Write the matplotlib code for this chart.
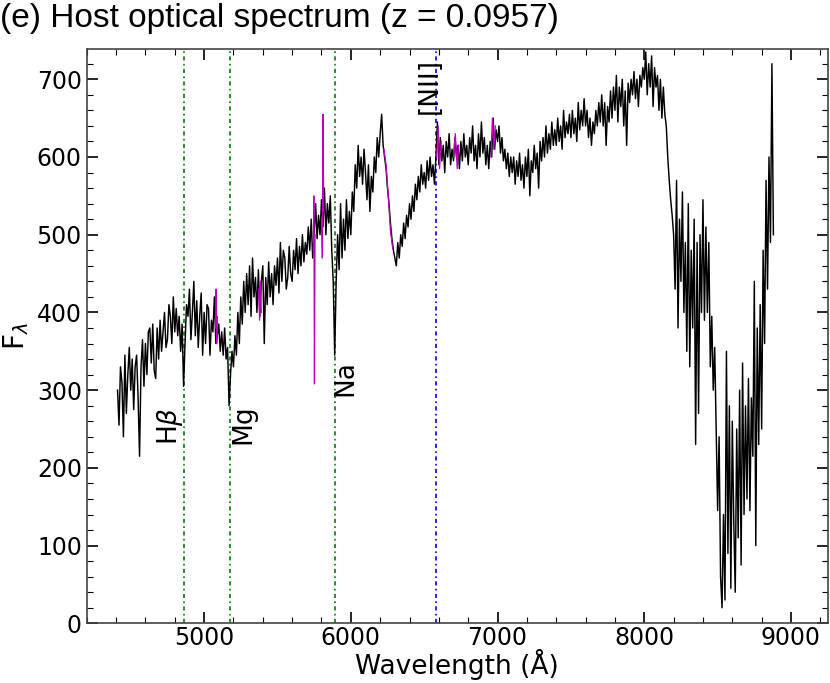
import numpy as np
import matplotlib
matplotlib.use("Agg")
import matplotlib.pyplot as plt
from matplotlib.ticker import MultipleLocator

# rest-frame wavelength grid of the host spectrum (Angstrom)
wave = np.arange(4410, 8890, 10)

# flux values, one row per 100 A
flux = [
    300, 255, 330, 310, 240, 345, 270, 320, 355,
    300, 340, 275, 330, 345, 290, 215, 330, 365, 305,
    360, 320, 375, 380, 335, 385, 325, 315, 380, 340,
    390, 350, 375, 400, 355, 365, 410, 395, 360, 420,
    375, 405, 370, 395, 350, 385, 305, 360, 410, 395,
    430, 365, 400, 440, 370, 415, 355, 395, 425, 345,
    400, 360, 410, 405, 345, 390, 375, 420, 360, 370,
    385, 350, 375, 345, 380, 340, 355, 280, 320, 350,
    330, 370, 345, 400, 360, 420, 385, 440, 400, 450,
    410, 460, 395, 470, 420, 445, 400, 455, 395, 440,
    460, 360, 445, 410, 465, 420, 450, 410, 460, 435,
    470, 425, 490, 440, 480, 470, 430, 445, 485, 450,
    440, 480, 455, 495, 450, 485, 460, 500, 465, 490,
    475, 510, 480, 520, 470, 500, 540, 495, 525, 500,
    545, 510, 560, 500, 540, 515, 550, 480, 440, 345,
    440, 500, 455, 540, 470, 520, 480, 545, 495, 530,
    500, 555, 530, 590, 560, 615, 575, 600, 565, 610,
    580, 545, 590, 530, 575, 555, 600, 580, 625, 600,
    630, 655, 615, 600, 585, 560, 540, 515, 495, 480,
    470, 460, 490, 470, 500, 485, 515, 495, 525, 510,
    540, 520, 550, 530, 565, 545, 575, 555, 590, 565,
    580, 560, 595, 570, 600, 575, 590, 565, 600, 645,
    590, 625, 595, 615, 580, 620, 600, 630, 590, 610,
    595, 625, 600, 615, 585, 620, 595, 630, 600, 615,
    590, 625, 605, 640, 595, 615, 585, 630, 600, 645,
    605, 625, 590, 615, 585, 620, 600, 650, 610, 635,
    620, 640, 605, 625, 595, 610, 585, 605, 575, 600,
    580, 600, 565, 595, 575, 605, 570, 590, 560, 600,
    575, 610, 550, 595, 580, 615, 585, 605, 560, 620,
    595, 625, 600, 640, 605, 630, 610, 645, 615, 635,
    615, 650, 620, 640, 610, 660, 625, 645, 630, 655,
    625, 660, 630, 650, 620, 670, 635, 660, 640, 675,
    640, 660, 625, 650, 615, 645, 630, 660, 640, 670,
    645, 680, 640, 670, 615, 665, 645, 685, 650, 690,
    660, 705, 645, 690, 665, 700, 640, 685, 615, 695,
    670, 700, 680, 710, 675, 700, 665, 705, 690, 715,
    700, 735, 680, 720, 690, 730, 665, 715, 690, 705,
    660, 700, 650, 690, 655, 640, 600, 570, 545, 525,
    500, 430, 570, 380, 520, 440, 555, 400, 490, 350,
    540, 330, 480, 380, 520, 230, 490, 270, 500, 400,
    545, 390, 510, 400, 490, 330, 395, 300, 355, 250,
    145, 240, 60, 20, 140, 30, 350, 90, 280, 45,
    260, 130, 40, 250, 110, 300, 75, 335, 140, 280,
    160, 315, 145, 290, 215, 440, 100, 380, 230, 410,
    250, 480, 360, 570, 430, 600, 490, 720, 500,
]

# masked pixels (shown in magenta)
mask_waves = [
    [5078, 5082, 5086, 5090],
    [5372, 5378, 5384, 5390],
    [5744, 5748, 5752, 5756],
    [5800, 5806, 5810, 5815],
    [6225, 6240, 6255, 6270, 6285],
    [6585, 6595, 6605, 6615],
    [6700, 6712, 6725, 6735],
    [6955, 6965, 6975, 6985],
]
mask_flux = [
    [380, 430, 360, 395],
    [430, 390, 440, 400],
    [480, 550, 308, 500],
    [520, 470, 655, 530],
    [610, 590, 550, 505, 483],
    [600, 640, 585, 620],
    [600, 630, 585, 615],
    [600, 650, 610, 640],
]

line_names = ["H$\\beta$", "Mg", "Na", "[NII]"]
line_waves = [4861, 5175, 5893, 6583]
line_colors = ["green", "green", "green", "blue"]
label_x = [4767, 5271, 5966, 6540]
label_y = [254, 256, 315, 691]

fig = plt.figure(figsize=(8.3, 6.83), dpi=100)
ax = fig.add_axes([0.1045, 0.0874, 0.8927, 0.8409])

ax.plot(wave, flux, color="black", lw=1.05, zorder=2)
for w, f in zip(mask_waves, mask_flux):
    ax.plot(w, f, color="#c000c0", lw=0.9, zorder=3)

for name, w, c, lx, ly in zip(line_names, line_waves, line_colors, label_x, label_y):
    ax.axvline(w, color=c, lw=1.2, ls=(0, (2.5, 2, 1, 2)), zorder=1)
    ax.text(lx, ly, name, rotation=90, ha="center", va="center", fontsize=19)

ax.set_xlim(4200, 9250)
ax.set_ylim(0, 739)
ax.xaxis.set_major_locator(MultipleLocator(1000))
ax.xaxis.set_minor_locator(MultipleLocator(200))
ax.yaxis.set_major_locator(MultipleLocator(100))
ax.yaxis.set_minor_locator(MultipleLocator(20))
ax.tick_params(which="both", direction="in", top=True, right=True, labelsize=17)
ax.tick_params(axis="x", pad=2)
ax.tick_params(which="major", length=8, width=1.2)
ax.tick_params(which="minor", length=4, width=0.8)
for s in ax.spines.values():
    s.set_color("#444444")
    s.set_linewidth(1.2)

ax.set_xlabel("Wavelength (Å)", fontsize=19, labelpad=-1)
ax.set_ylabel("F$_\\lambda$", fontsize=20, labelpad=4)

fig.text(0.0, 0.995, "(e) Host optical spectrum (z = 0.0957)", ha="left", va="top",
         fontsize=24, family=["Liberation Sans", "DejaVu Sans"])

fig.savefig("out.png", dpi=100)
